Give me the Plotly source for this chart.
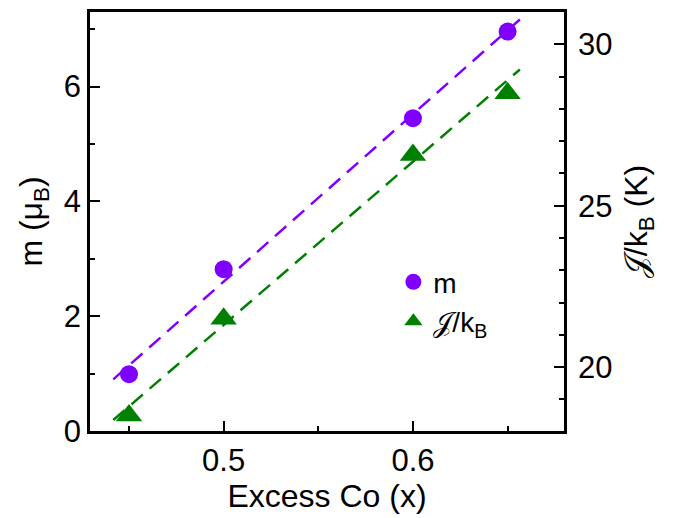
import plotly.graph_objects as go

# Data
x_co = [0.45, 0.50, 0.60, 0.65]
m_vals = [0.99, 2.82, 5.45, 6.96]
J_vals = [18.5, 21.5, 26.57, 28.48]

# Linear fit lines (endpoints)
fit_x = [0.4417, 0.6565]
fit_m = [0.90, 7.17]
fit_J = [18.36, 29.22]

purple = "#8000FF"
green = "#008000"
font = "Liberation Sans"

fig = go.Figure()
fig.add_trace(go.Scatter(x=fit_x, y=fit_m, mode="lines",
                         line=dict(color=purple, width=2.5, dash="15px,9px"),
                         showlegend=False, hoverinfo="skip"))
fig.add_trace(go.Scatter(x=fit_x, y=fit_J, mode="lines", yaxis="y2",
                         line=dict(color=green, width=2.5, dash="15px,9px"),
                         showlegend=False, hoverinfo="skip"))
fig.add_trace(go.Scatter(x=x_co, y=m_vals, mode="markers", name="m",
                         marker=dict(symbol="circle", size=18, color=purple)))
fig.add_trace(go.Scatter(x=x_co, y=J_vals, mode="markers", yaxis="y2",
                         name="𝒥/k<sub>B</sub>",
                         marker=dict(symbol="triangle-up", size=23, color=green)))

axis_common = dict(showline=True, linecolor="black", linewidth=2.5,
                   ticks="inside", ticklen=10, tickwidth=2, tickcolor="black",
                   showgrid=False, zeroline=False,
                   tickfont=dict(family=font, size=31, color="black"),
                   title_font=dict(family=font, size=32, color="black"))

fig.update_layout(
    width=684, height=518,
    margin=dict(l=90, r=120, t=9, b=87),
    paper_bgcolor="white", plot_bgcolor="white",
    xaxis=dict(**axis_common, range=[0.4294, 0.6798], dtick=0.1, tick0=0.5,
               mirror=True, title=dict(text="Excess Co (x)", standoff=8),
               minor=dict(dtick=0.05, tick0=0.45, ticks="inside", ticklen=5,
                          tickwidth=2, tickcolor="black")),
    yaxis=dict(**axis_common, range=[0, 7.3], dtick=2, tick0=0,
               title=dict(text="m (μ<sub>B</sub>)", standoff=12),
               minor=dict(dtick=1, ticks="inside", ticklen=5,
                          tickwidth=2, tickcolor="black")),
    yaxis2=dict(**axis_common, overlaying="y", side="right",
                range=[18.02, 31.0], dtick=5, tick0=20, ticklabelstandoff=5,
                title=dict(text="𝒥/k<sub>B</sub> (K)", standoff=14),
                minor=dict(dtick=1, ticks="inside", ticklen=5,
                           tickwidth=2, tickcolor="black")),
    legend=dict(x=0.64, y=0.415, xanchor="left", yanchor="top",
                bgcolor="rgba(0,0,0,0)", tracegroupgap=0,
                font=dict(family=font, size=28, color="black"),
                itemsizing="trace"),
    showlegend=True,
)

fig.write_html("out.html")
